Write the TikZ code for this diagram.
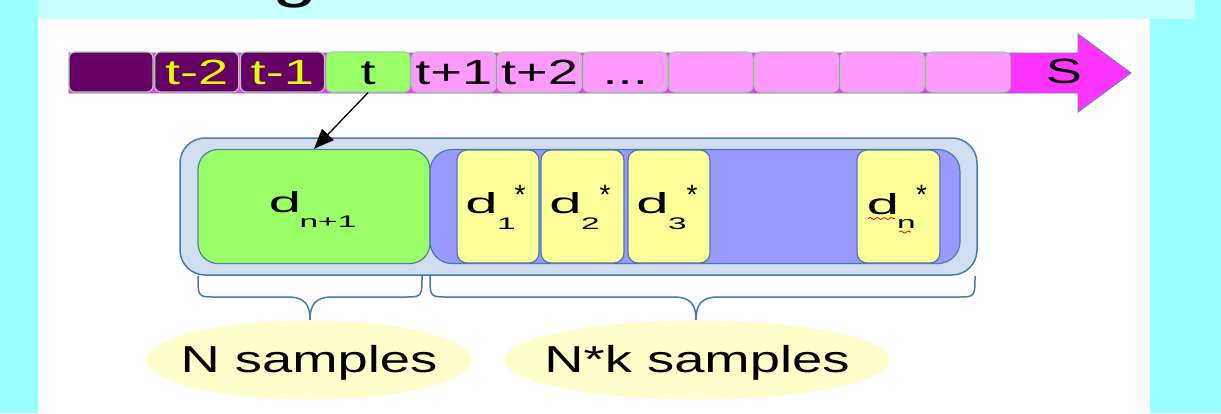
\documentclass[tikz,border=0pt]{standalone}
\usepackage{fontspec}
\usetikzlibrary{arrows.meta,shapes.geometric,decorations.pathmorphing}
\newfontfamily\cellfont[FakeStretch=1.55]{Liberation Sans}
\newfontfamily\labfont[FakeStretch=1.45]{Liberation Sans}
\newfontfamily\dfont[FakeStretch=2.0]{Liberation Sans}
\newfontfamily\plainsans{Liberation Sans}
\newcommand\tdots{...}
\definecolor{bgcyan}{RGB}{153,255,255}
\definecolor{bandcyan}{RGB}{200,255,255}
\definecolor{darkpurple}{RGB}{102,0,102}
\definecolor{cellgreen}{RGB}{153,255,102}
\definecolor{cellpink}{RGB}{255,153,255}
\definecolor{arrowmag}{RGB}{255,51,255}
\definecolor{arrowedge}{RGB}{110,125,190}
\definecolor{celledge}{RGB}{170,205,170}
\definecolor{tyellow}{RGB}{225,255,0}
\definecolor{outerfill}{RGB}{208,222,240}
\definecolor{steel}{RGB}{74,120,176}
\definecolor{greenedge}{RGB}{80,130,160}
\definecolor{boxpurple}{RGB}{153,153,255}
\definecolor{boxyellow}{RGB}{255,255,153}
\definecolor{ellfill}{RGB}{255,255,204}
\tikzset{
  cell/.style={draw=celledge, line width=1.2pt, rounded corners=6pt,
    minimum width=84pt, minimum height=40pt, inner sep=0pt,
    text height=25pt, text depth=0pt,
    font=\cellfont\fontsize{35}{40}\selectfont},
  outerbox/.style={draw=steel, fill=outerfill, line width=1.5pt,
    rounded corners=25pt, minimum width=797pt, minimum height=137pt, inner sep=0pt},
  greenbox/.style={draw=greenedge, fill=cellgreen, line width=1.2pt,
    rounded corners=20pt, minimum width=232pt, minimum height=114pt, inner sep=0pt},
  purplebox/.style={draw=steel, fill=boxpurple, line width=1.2pt,
    rounded corners=22pt, minimum width=530pt, minimum height=114pt, inner sep=0pt},
  ybox/.style={draw=steel, fill=boxyellow, line width=1.2pt,
    rounded corners=10pt, minimum height=113pt, inner sep=0pt},
  dbig/.style={anchor=base, inner sep=0pt, font=\dfont\fontsize{29}{30}\selectfont},
  dsub/.style={anchor=base, inner sep=0pt, font=\dfont\fontsize{16.7}{18}\selectfont},
  dstar/.style={anchor=base, inner sep=0pt, font=\plainsans\fontsize{28}{30}\selectfont},
  bracepath/.style={draw=steel, line width=1.5pt},
  labell/.style={ellipse, fill=ellfill, inner sep=0pt, minimum height=79pt,
    text height=28pt, text depth=4pt,
    font=\labfont\fontsize{37.5}{40}\selectfont},
  squig/.style={draw=red, line width=0.8pt, decorate,
    decoration={snake, amplitude=1.1pt, segment length=7pt}}
}
\begin{document}
\begin{tikzpicture}[x=1pt,y=-1pt]
\useasboundingbox (0,0) rectangle (1221,413);
\clip (0,0) rectangle (1221,413);
% backgrounds
\fill[bgcyan] (0,0) rectangle (1221,413);
\fill[bandcyan] (38,0) rectangle (1195,19);
\fill[white] (38,19) rectangle (1150,413);
\node[font=\labfont\fontsize{56}{60}\selectfont, anchor=base, inner sep=0pt] (title) at (295,-4) {g};
% timeline arrow
\filldraw[fill=arrowmag, draw=arrowedge, line width=0.9pt]
  (69,53) -- (1078,53) -- (1078,34) -- (1131,73) -- (1078,112) -- (1078,93) -- (69,93) -- cycle;
% cells
\foreach \i/\fc/\tc/\txt in {0/darkpurple/black/{}, 1/darkpurple/tyellow/t-2,
  2/darkpurple/tyellow/t-1, 3/cellgreen/black/t, 4/cellpink/black/t+1,
  5/cellpink/black/t+2, 6/cellpink/black/\tdots, 7/cellpink/black/{},
  8/cellpink/black/{}, 9/cellpink/black/{}, 10/cellpink/black/{}}{
  \node[cell, fill=\fc, text=\tc] (c\i) at ({111+85.7*\i},72) {\txt};
}
\node[anchor=base, inner sep=0pt, font=\cellfont\fontsize{35}{40}\selectfont] (S) at (1064,83) {S};
% sample boxes
\node[outerbox] (outer) at (578.5,206.5) {};
\node[greenbox] (dnp) at (314,206.5) {};
\node[purplebox] (samp) at (695,206.5) {};
\node[ybox, minimum width=82pt] (y1) at (498,206.5) {};
\node[ybox, minimum width=83pt] (y2) at (582.5,206.5) {};
\node[ybox, minimum width=82pt] (y3) at (669,206.5) {};
\node[ybox, minimum width=83pt] (yn) at (898.5,206.5) {};
% labels
\node[dbig] (l0d) at (285,212) {d};
\node[dsub] (l0s) at (328,227) {n+1};
\node[dbig] (l1d) at (481.5,213) {d};
\node[dsub] (l1s) at (506.5,229) {1};
\node[dstar] (l1x) at (520,204) {*};
\node[dbig] (l2d) at (565.5,213) {d};
\node[dsub] (l2s) at (590.5,229) {2};
\node[dstar] (l2x) at (605,204) {*};
\node[dbig] (l3d) at (652.5,213) {d};
\node[dsub] (l3s) at (677.5,229) {3};
\node[dstar] (l3x) at (692,204) {*};
\node[dbig] (lnd) at (883,214) {d};
\node[dsub] (lns) at (906.5,228) {n};
\node[dstar] (lnx) at (921.5,204) {*};
\path[squig] (868,218.5) -- (895,218.5);
\path[squig] (899,232) -- (911,232);
% arrow from t
\draw[line width=1.3pt, -{Triangle[length=20pt,width=16pt]}] (c3.south) -- (dnp.north);
% braces
\path[bracepath] (198,276) .. controls (198,297) .. (216,297) -- (288,297)
  .. controls (305,297) and (310,305) .. (310,320)
  .. controls (310,305) and (315,297) .. (332,297) -- (404,297)
  .. controls (422,297) .. (422,276);
\path[bracepath] (430,276) .. controls (430,297) .. (448,297) -- (674,297)
  .. controls (691,297) and (696,305) .. (696,320)
  .. controls (696,305) and (701,297) .. (718,297) -- (957,297)
  .. controls (975,297) .. (975,276);
% ellipse labels
\node[labell, minimum width=326pt] (lab1) at (309,360) {\makebox[0pt]{N samples}};
\node[labell, minimum width=385pt] (lab2) at (697,360) {\makebox[0pt]{N*k samples}};
\end{tikzpicture}
\end{document}
